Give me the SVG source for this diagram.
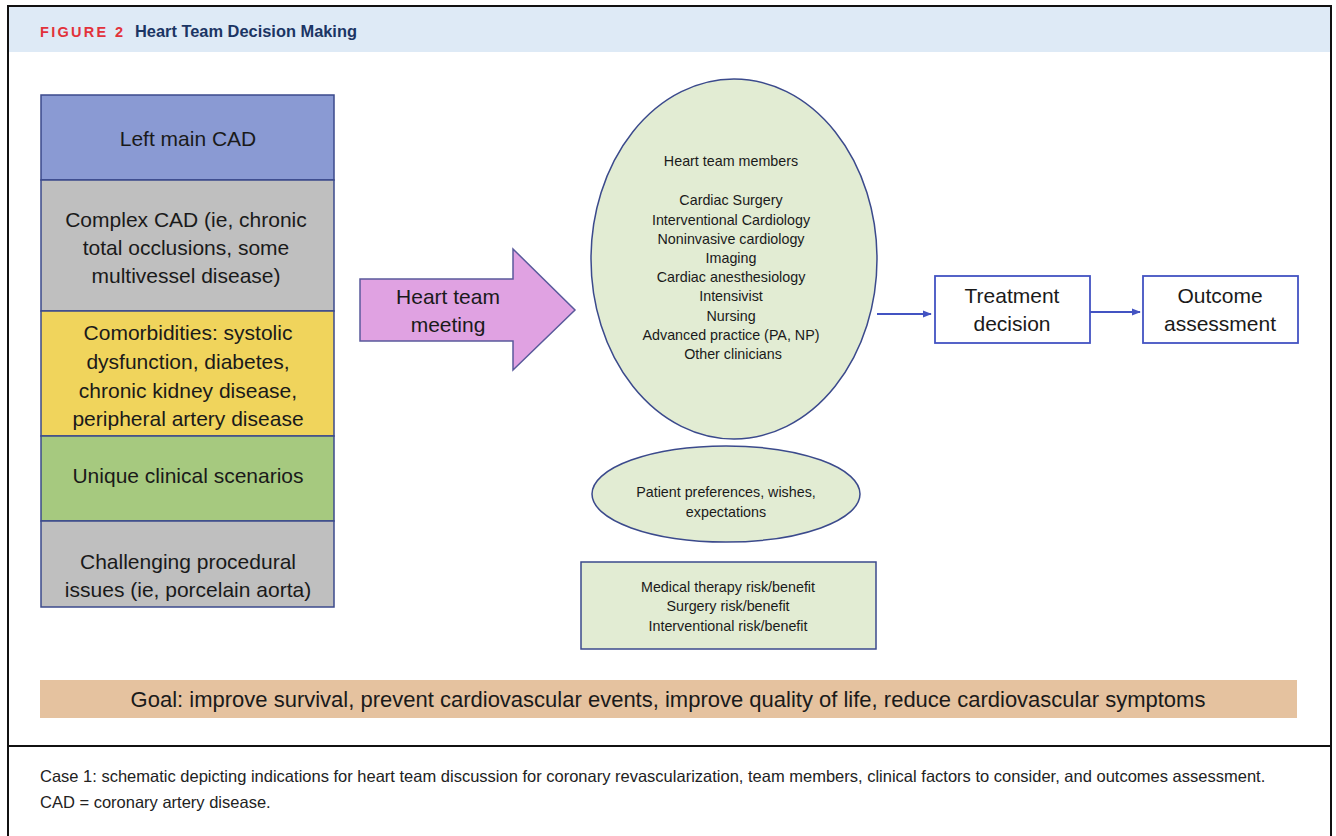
<svg xmlns="http://www.w3.org/2000/svg" width="1336" height="836" viewBox="0 0 1336 836">
  <style>
    .t { font-family: "Liberation Sans", Arial, sans-serif; fill: #1a1a1a; text-anchor: middle; }
    .big { font-size: 21px; }
    .small { font-size: 14.3px; }
    .band { stroke: #3B4A8C; stroke-width: 1.5; }
    .node { fill: #E2ECD3; stroke: #3B4A8C; stroke-width: 1.5; }
    .box { fill: #ffffff; stroke: #4353C2; stroke-width: 1.8; }
    .link { stroke: #4353C2; stroke-width: 1.8; fill: none; marker-end: url(#tip); }
    .cap { font-family: "Liberation Sans", Arial, sans-serif; font-size: 16.5px; fill: #222; }
  </style>
  <defs>
    <marker id="tip" viewBox="0 0 10 10" refX="9" refY="5" markerWidth="5" markerHeight="5" orient="auto" markerUnits="strokeWidth">
      <path d="M0,1 L10,5 L0,9 z" fill="#4353C2"/>
    </marker>
  </defs>

  <!-- page frame and header -->
  <rect x="0" y="0" width="1336" height="836" fill="#ffffff"/>
  <rect x="8" y="7" width="1322" height="45" fill="#DEEAF6"/>
  <path d="M8,840 V6 H1331 V840" fill="none" stroke="#111" stroke-width="2"/>
  <line x1="8" y1="746" x2="1331" y2="746" stroke="#111" stroke-width="2"/>
  <text x="40" y="37" font-family="Liberation Sans, Arial, sans-serif" font-size="14.5" font-weight="bold" letter-spacing="2.3" fill="#E2323B">FIGURE 2</text>
  <text x="135" y="37" font-family="Liberation Sans, Arial, sans-serif" font-size="16.4" font-weight="bold" fill="#1B3564">Heart Team Decision Making</text>

  <!-- indication stack -->
  <g id="left-main">
    <rect x="41" y="95" width="293" height="85" fill="#8A9AD3" class="band"/>
    <text class="t big" x="188" y="146">Left main CAD</text>
  </g>
  <g id="complex-cad">
    <rect x="41" y="180" width="293" height="131" fill="#BFBFBF" class="band"/>
    <text class="t big" x="186" y="227">Complex CAD (ie, chronic</text>
    <text class="t big" x="186" y="255">total occlusions, some</text>
    <text class="t big" x="186" y="283">multivessel disease)</text>
  </g>
  <g id="comorbidities">
    <rect x="41" y="311" width="293" height="125" fill="#F0D45C" class="band"/>
    <text class="t big" x="188" y="340">Comorbidities: systolic</text>
    <text class="t big" x="188" y="369">dysfunction, diabetes,</text>
    <text class="t big" x="188" y="398">chronic kidney disease,</text>
    <text class="t big" x="188" y="426">peripheral artery disease</text>
  </g>
  <g id="unique-scenarios">
    <rect x="41" y="436" width="293" height="85" fill="#A6C97F" class="band"/>
    <text class="t big" x="188" y="483">Unique clinical scenarios</text>
  </g>
  <g id="procedural-issues">
    <rect x="41" y="521" width="293" height="86" fill="#BFBFBF" class="band"/>
    <text class="t big" x="188" y="569">Challenging procedural</text>
    <text class="t big" x="188" y="597">issues (ie, porcelain aorta)</text>
  </g>

  <!-- heart team meeting arrow -->
  <g id="meeting">
    <path d="M360,279 H513 V249 L575,310 L513,370 V341 H360 Z" fill="#E0A2E2" stroke="#5A5A9C" stroke-width="1.5"/>
    <text class="t big" x="448" y="304">Heart team</text>
    <text class="t big" x="448" y="332">meeting</text>
  </g>

  <!-- team members -->
  <g id="team-members">
    <ellipse class="node" cx="734" cy="259" rx="143" ry="180"/>
    <text class="t small">
      <tspan x="733" y="166">Heart team members</tspan>
      <tspan x="733" y="205">Cardiac Surgery</tspan>
      <tspan x="733" y="225">Interventional Cardiology</tspan>
      <tspan x="733" y="244">Noninvasive cardiology</tspan>
      <tspan x="733" y="263">Imaging</tspan>
      <tspan x="733" y="282">Cardiac anesthesiology</tspan>
      <tspan x="733" y="301">Intensivist</tspan>
      <tspan x="733" y="321">Nursing</tspan>
      <tspan x="733" y="340">Advanced practice (PA, NP)</tspan>
      <tspan x="733" y="359">Other clinicians</tspan>
    </text>
  </g>

  <g id="patient-preferences">
    <ellipse class="node" cx="726" cy="494" rx="134" ry="48"/>
    <text class="t small" x="726" y="497">Patient preferences, wishes,</text>
    <text class="t small" x="726" y="517">expectations</text>
  </g>

  <g id="risk-benefit">
    <rect class="node" x="581" y="562" width="295" height="87"/>
    <text class="t small" x="728" y="592">Medical therapy risk/benefit</text>
    <text class="t small" x="728" y="611">Surgery risk/benefit</text>
    <text class="t small" x="728" y="631">Interventional risk/benefit</text>
  </g>

  <g id="treatment-decision">
    <rect class="box" x="935" y="276" width="155" height="67"/>
    <text class="t big" x="1012" y="303">Treatment</text>
    <text class="t big" x="1012" y="331">decision</text>
  </g>

  <g id="outcome-assessment">
    <rect class="box" x="1143" y="276" width="155" height="67"/>
    <text class="t big" x="1220" y="303">Outcome</text>
    <text class="t big" x="1220" y="331">assessment</text>
  </g>

  <!-- connectors -->
  <g id="connectors">
    <line class="link" x1="877" y1="314" x2="931" y2="314"/>
    <line class="link" x1="1090" y1="312" x2="1140" y2="312"/>
  </g>

  <!-- goal banner -->
  <g id="goal">
    <rect x="40" y="680" width="1257" height="38" fill="#E5C29F"/>
    <text class="t" font-size="22" x="668" y="707">Goal: improve survival, prevent cardiovascular events, improve quality of life, reduce cardiovascular symptoms</text>
  </g>

  <!-- caption -->
  <text class="cap" x="40" y="782">Case 1: schematic depicting indications for heart team discussion for coronary revascularization, team members, clinical factors to consider, and outcomes assessment.</text>
  <text class="cap" x="40" y="808">CAD = coronary artery disease.</text>
</svg>
